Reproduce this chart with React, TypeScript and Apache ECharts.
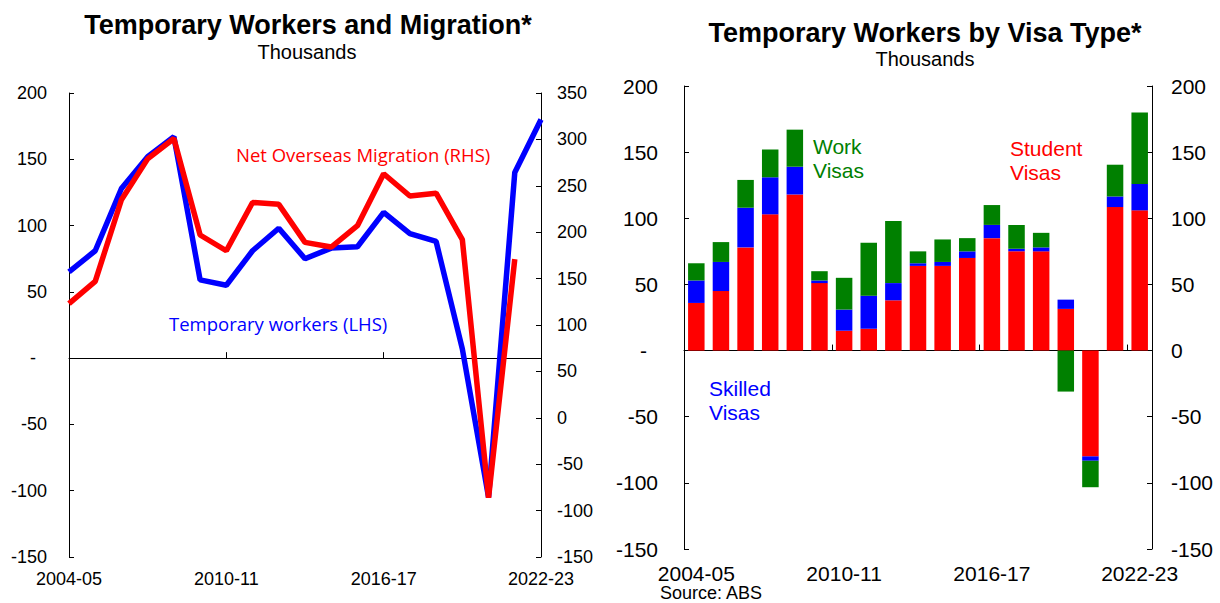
import React, { useEffect, useRef } from "react";
import * as echarts from "echarts";

const years = [
  "2004-05", "2005-06", "2006-07", "2007-08", "2008-09", "2009-10", "2010-11",
  "2011-12", "2012-13", "2013-14", "2014-15", "2015-16", "2016-17", "2017-18",
  "2018-19", "2019-20", "2020-21", "2021-22", "2022-23",
];

// Left chart (thousands)
const temporaryWorkers = [65, 81, 128, 152, 167, 59, 55, 81, 98, 75, 83, 84, 110, 94, 88, 7, -105, 140, 180];
const netOverseasMigration = [123, 147, 235, 279, 301, 197, 180, 232, 230, 189, 184, 207, 263, 239, 242, 192, -86, 171, null];

// Right chart (thousands)
const studentVisas = [36, 45, 78, 103, 118, 51, 15, 16.5, 38, 64, 64, 70, 85, 75, 75, 31.5, -80, 108.5, 106];
const skilledVisas = [17, 22, 30, 28, 21, 2, 16, 25, 13, 2, 3, 5, 10, 2, 3, 7, -3.3, 8, 20];
const workVisas = [13, 15, 21, 21, 28, 7, 24, 40, 47, 9, 17, 10, 15, 18, 11, -31, -20, 24, 54];

const FONT = "'Liberation Sans', Arial, sans-serif";
const ANNOT_FONT = "'Open Sans', 'Noto Sans', sans-serif";

const zeroDash = (v: number) => (v === 0 ? "{z|-}" : String(v));

export default function App() {
  const ref = useRef<HTMLDivElement>(null);

  useEffect(() => {
    document.body.style.margin = "0";
    if (!ref.current) return;
    const chart = echarts.init(ref.current, undefined, { renderer: "svg" });

    const yLabel = (size: number, margin: number, dash: boolean) => ({
      fontSize: size,
      color: "#000",
      margin,
      fontFamily: FONT,
      formatter: dash ? zeroDash : undefined,
      rich: { z: { fontSize: size, color: "#000", fontFamily: FONT, padding: [0, 11, 0, 0] } },
    });

    const axisLine = { show: true, lineStyle: { color: "#000", width: 1 } };

    chart.setOption({
      animation: false,
      backgroundColor: "#fff",
      textStyle: { fontFamily: FONT },
      grid: [
        { left: 69, top: 93, width: 472, height: 464 },
        { left: 684, top: 86, width: 468, height: 463 },
      ],
      xAxis: [
        {
          type: "category", gridIndex: 0, data: years, boundaryGap: false, position: "bottom",
          axisLine: { show: false, onZero: false }, axisTick: { show: false },
          axisLabel: { interval: 5, fontSize: 18, margin: 13, color: "#000", fontFamily: FONT },
        },
        {
          type: "category", gridIndex: 0, data: years, boundaryGap: false,
          axisLine: { show: true, onZero: true, onZeroAxisIndex: 0, lineStyle: { color: "#000", width: 1 } },
          axisTick: { show: true, interval: 5, length: 6, lineStyle: { color: "#000" } },
          axisLabel: { show: false },
        },
        {
          type: "category", gridIndex: 1, data: years, boundaryGap: true, position: "bottom",
          axisLine: { show: false, onZero: false }, axisTick: { show: false },
          axisLabel: { interval: 5, fontSize: 21, margin: 14, color: "#000", fontFamily: FONT },
        },
        {
          type: "category", gridIndex: 1, data: years, boundaryGap: true,
          axisLine: { show: true, onZero: true, onZeroAxisIndex: 2, lineStyle: { color: "#000", width: 1 } },
          axisTick: { show: true, interval: 5, length: 6, lineStyle: { color: "#000" } },
          axisLabel: { show: false },
        },
      ],
      yAxis: [
        {
          type: "value", gridIndex: 0, position: "left", min: -150, max: 200, interval: 50,
          axisLine, axisTick: { show: true, inside: true, length: 5, lineStyle: { color: "#000" } },
          splitLine: { show: false }, axisLabel: yLabel(18, 22, true),
        },
        {
          type: "value", gridIndex: 0, position: "right", min: -150, max: 350, interval: 50,
          axisLine, axisTick: { show: true, inside: true, length: 5, lineStyle: { color: "#000" } },
          splitLine: { show: false }, axisLabel: yLabel(18, 16, false),
        },
        {
          type: "value", gridIndex: 1, position: "left", min: -150, max: 200, interval: 50,
          axisLine, axisTick: { show: true, inside: true, length: 5, lineStyle: { color: "#000" } },
          splitLine: { show: false }, axisLabel: yLabel(21, 26, true),
        },
        {
          type: "value", gridIndex: 1, position: "right", min: -150, max: 200, interval: 50,
          axisLine, axisTick: { show: true, inside: true, length: 5, lineStyle: { color: "#000" } },
          splitLine: { show: false }, axisLabel: yLabel(21, 19, false),
        },
      ],
      series: [
        {
          name: "Temporary workers (LHS)", type: "line", xAxisIndex: 0, yAxisIndex: 0,
          data: temporaryWorkers, symbol: "none", lineStyle: { color: "#0000FF", width: 5.5 },
          itemStyle: { color: "#0000FF" }, z: 3,
        },
        {
          name: "Net Overseas Migration (RHS)", type: "line", xAxisIndex: 0, yAxisIndex: 1,
          data: netOverseasMigration, symbol: "none", lineStyle: { color: "#FF0000", width: 5.5 },
          itemStyle: { color: "#FF0000" }, z: 4,
        },
        {
          name: "Student Visas", type: "bar", xAxisIndex: 2, yAxisIndex: 2, stack: "visa",
          data: studentVisas, barCategoryGap: "33%", itemStyle: { color: "#FF0000" },
        },
        {
          name: "Skilled Visas", type: "bar", xAxisIndex: 2, yAxisIndex: 2, stack: "visa",
          data: skilledVisas, barCategoryGap: "33%", itemStyle: { color: "#0000FF" },
        },
        {
          name: "Work Visas", type: "bar", xAxisIndex: 2, yAxisIndex: 2, stack: "visa",
          data: workVisas, barCategoryGap: "33%", itemStyle: { color: "#008000" },
        },
      ],
      graphic: [
        {
          type: "text", x: 308, y: 25,
          style: { text: "Temporary Workers and Migration*", font: `bold 27px ${FONT}`, fill: "#000", align: "center", verticalAlign: "middle" },
        },
        {
          type: "text", x: 307, y: 52,
          style: { text: "Thousands", font: `20px ${FONT}`, fill: "#000", align: "center", verticalAlign: "middle" },
        },
        {
          type: "text", x: 925, y: 33,
          style: { text: "Temporary Workers by Visa Type*", font: `bold 27px ${FONT}`, fill: "#000", align: "center", verticalAlign: "middle" },
        },
        {
          type: "text", x: 925, y: 59,
          style: { text: "Thousands", font: `20px ${FONT}`, fill: "#000", align: "center", verticalAlign: "middle" },
        },
        {
          type: "text", x: 236, y: 154,
          style: { text: "Net Overseas Migration (RHS)", font: `18.5px ${ANNOT_FONT}`, fill: "#FF0000", align: "left", verticalAlign: "middle" },
        },
        {
          type: "text", x: 169, y: 323,
          style: { text: "Temporary workers (LHS)", font: `18.5px ${ANNOT_FONT}`, fill: "#0000FF", align: "left", verticalAlign: "middle" },
        },
        {
          type: "text", x: 813, y: 134,
          style: { text: "Work\nVisas", font: `21px ${FONT}`, lineHeight: 24, fill: "#008000", align: "left", verticalAlign: "top" },
        },
        {
          type: "text", x: 1010, y: 136,
          style: { text: "Student\nVisas", font: `21px ${FONT}`, lineHeight: 24, fill: "#FF0000", align: "left", verticalAlign: "top" },
        },
        {
          type: "text", x: 709, y: 376,
          style: { text: "Skilled\nVisas", font: `21px ${FONT}`, lineHeight: 24, fill: "#0000FF", align: "left", verticalAlign: "top" },
        },
        {
          type: "text", x: 660, y: 593,
          style: { text: "Source: ABS", font: `18px ${FONT}`, fill: "#000", align: "left", verticalAlign: "middle" },
        },
      ],
    });

    return () => chart.dispose();
  }, []);

  return <div ref={ref} style={{ width: 1220, height: 603 }} />;
}
